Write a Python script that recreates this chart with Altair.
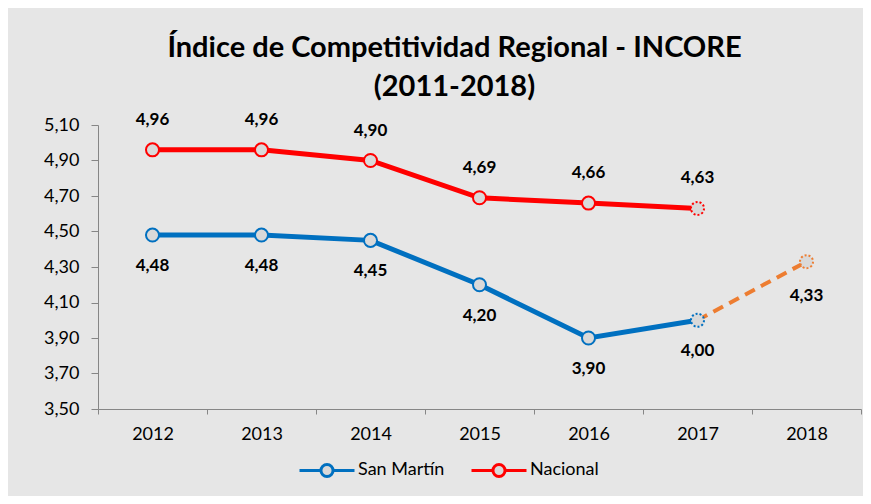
import altair as alt
import pandas as pd

years = ["2012", "2013", "2014", "2015", "2016", "2017", "2018"]
series_names = ["San Martín", "Nacional"]
san_martin = [4.48, 4.48, 4.45, 4.20, 3.90, 4.00]
nacional = [4.96, 4.96, 4.90, 4.69, 4.66, 4.63]
proj_years = ["2017", "2018"]
proyeccion = [4.00, 4.33]
y_ticks = [3.5, 3.7, 3.9, 4.1, 4.3, 4.5, 4.7, 4.9, 5.1]

BLUE = "#0070c0"
RED = "#ff0000"
ORANGE = "#ed7d31"
MARKER_FILL = "#d9d9d9"
FONT = "Lato"


def fmt(v):
    return f"{v:.2f}".replace(".", ",")


rows = []
for name, vals in zip(series_names, [san_martin, nacional]):
    for y, v in zip(years, vals):
        rows.append({"year": y, "serie": name, "value": v, "label": fmt(v),
                     "est": y == "2017"})
df = pd.DataFrame(rows)
proj = pd.DataFrame({"year": proj_years, "value": proyeccion,
                     "label": [fmt(v) for v in proyeccion]})

x_enc = alt.X("year:O", sort=years, bandPosition=0.5,
              scale=alt.Scale(type="band", domain=years, paddingInner=0, paddingOuter=0),
              axis=alt.Axis(title=None, labelAngle=0, tickBand="extent", labelFontSize=18,
                            labelFont=FONT, labelColor="#000000", tickSize=5,
                            labelPadding=11, domainColor="#868686", tickColor="#868686",
                            grid=False))
y_enc = alt.Y("value:Q",
              scale=alt.Scale(domain=[3.5, 5.1], nice=False, zero=False),
              axis=alt.Axis(title=None, values=y_ticks, labelFontSize=18, labelFont=FONT,
                            labelColor="#000000", tickSize=7, labelPadding=12,
                            domainColor="#868686", tickColor="#868686", grid=False,
                            labelExpr="replace(format(datum.value, '.2f'), '.', ',')"))

color_scale = alt.Scale(domain=series_names, range=[BLUE, RED])

legend_path = ("M-1,0L-0.22,0M0.22,0L1,0"
               "M0.22,0A0.22,0.22,0,1,1,-0.22,0A0.22,0.22,0,1,1,0.22,0Z")

base = alt.Chart(df)

lines = base.mark_line(strokeWidth=5).encode(
    x=x_enc, y=y_enc,
    color=alt.Color("serie:N", scale=color_scale, sort=series_names,
                    legend=alt.Legend(title=None, orient="none", direction="horizontal",
                                      legendX=200, legendY=316,
                                      symbolType=legend_path, symbolSize=3025,
                                      symbolStrokeWidth=3, symbolFillColor=MARKER_FILL,
                                      labelFontSize=18, labelFont=FONT, labelColor="#000000",
                                      labelOffset=2, columnPadding=20)),
)

proj_line = alt.Chart(proj).mark_line(strokeWidth=4, color=ORANGE, strokeDash=[11, 7]).encode(
    x=x_enc, y=y_enc)

pts_solid = base.transform_filter("!datum.est").mark_point(
    shape="circle", filled=True, fill=MARKER_FILL, size=170, strokeWidth=2, opacity=1
).encode(x=x_enc, y=y_enc,
         stroke=alt.Stroke("serie:N", scale=color_scale, legend=None))

pts_est = base.transform_filter("datum.est").mark_point(
    shape="circle", filled=True, fill=MARKER_FILL, size=170, strokeWidth=2, opacity=1,
    strokeDash=[2, 2]
).encode(x=x_enc, y=y_enc,
         stroke=alt.Stroke("serie:N", scale=color_scale, legend=None))

proj_pt = alt.Chart(proj).transform_filter("datum.year == '2018'").mark_point(
    shape="circle", filled=True, fill=MARKER_FILL, size=170, strokeWidth=2, opacity=1,
    strokeDash=[2, 2], stroke=ORANGE
).encode(x=x_enc, y=y_enc)

text_style = dict(font=FONT, fontSize=17, fontWeight="bold", color="#000000",
                  baseline="middle", align="center")

lab_above = base.transform_filter("datum.serie == 'Nacional'").mark_text(
    dy=-30, **text_style).encode(x=x_enc, y=y_enc, text="label:N")
lab_below = base.transform_filter("datum.serie == 'San Martín'").mark_text(
    dy=31, **text_style).encode(x=x_enc, y=y_enc, text="label:N")
lab_proj = alt.Chart(proj).transform_filter("datum.year == '2018'").mark_text(
    dy=34, **text_style).encode(x=x_enc, y=y_enc, text="label:N")

chart = alt.layer(
    lines, proj_line, pts_solid, pts_est, proj_pt, lab_above, lab_below, lab_proj
).properties(
    width=763, height=284,
    title=alt.TitleParams(
        text=["Índice de Competitividad Regional - INCORE", "(2011-2018)"],
        font=FONT, fontSize=29, fontWeight="bold", color="#000000",
        anchor="middle", dx=-25, offset=9, lineHeight=39),
    autosize=alt.AutoSizeParams(type="none"),
    padding={"left": 90, "top": 117, "right": 2, "bottom": 87},
    background="#e6e6e6",
).configure_view(stroke=None).resolve_scale(color="shared")

chart.save("out.html", embed_options={"renderer": "svg", "actions": False})
